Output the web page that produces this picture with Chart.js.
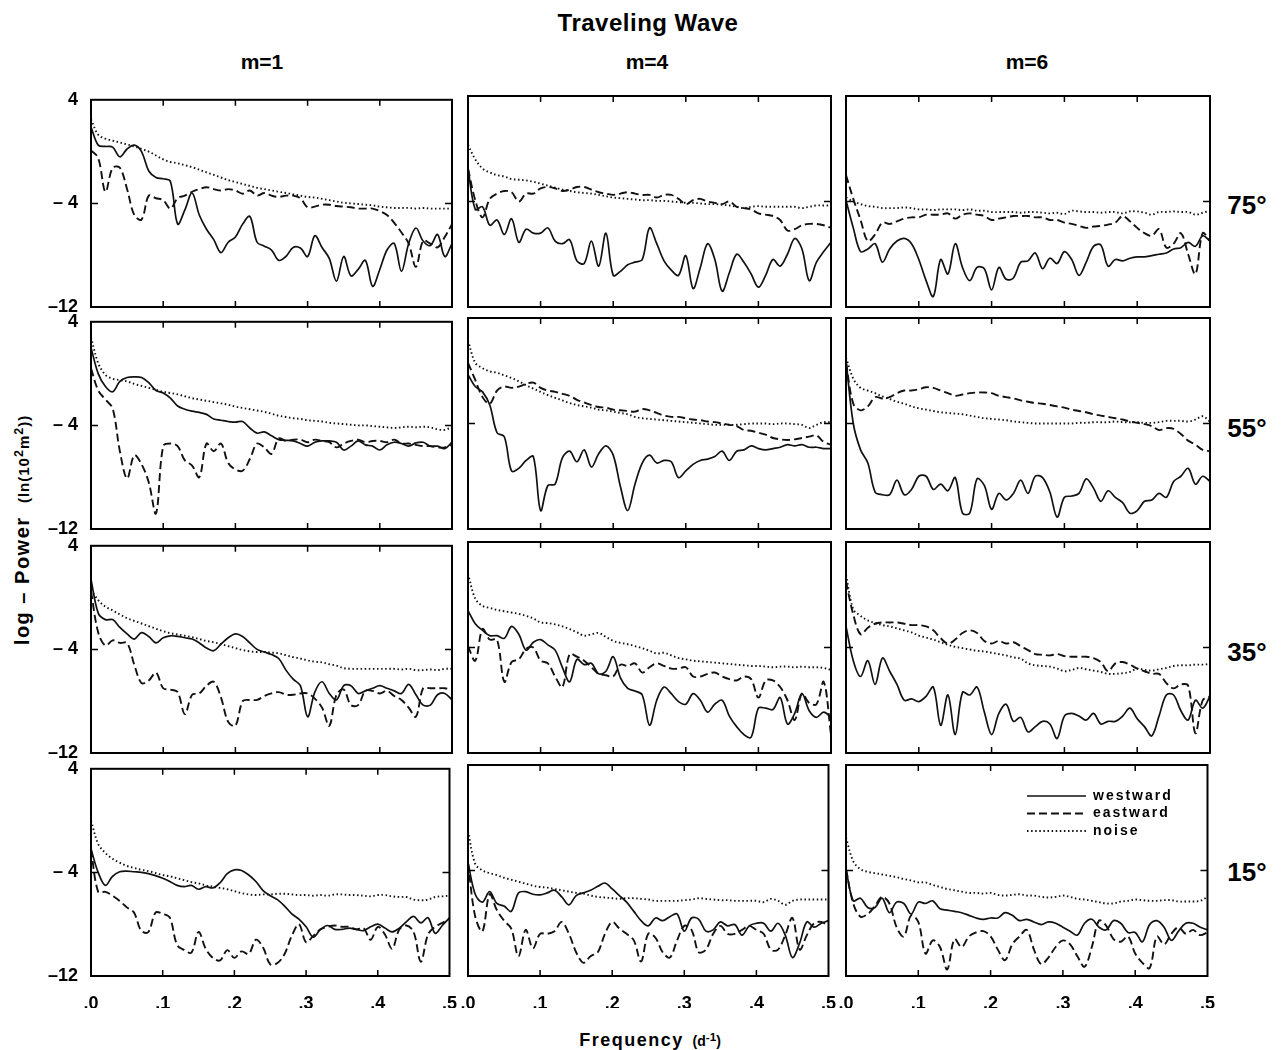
<!DOCTYPE html>
<html>
<head>
<meta charset="utf-8">
<script src="https://cdn.jsdelivr.net/npm/chart.js@4.4.1/dist/chart.umd.min.js"></script>
<style>
  body { margin: 0; background: #fff; }
  #wrap { position: relative; width: 1282px; height: 1050px; font-family: "Liberation Sans", Arial, sans-serif; color: #000; }
  #wrap canvas { position: absolute; }
  .lbl { position: absolute; font-weight: bold; white-space: nowrap; transform: translate(-50%, -50%); }
</style>
</head>
<body>
<div id="wrap">
  <div class="lbl" style="left:648px;top:23px;font-size:24px;letter-spacing:0.5px">Traveling Wave</div>
  <div class="lbl" style="left:262px;top:62px;font-size:21px">m=1</div>
  <div class="lbl" style="left:647px;top:62px;font-size:21px">m=4</div>
  <div class="lbl" style="left:1027px;top:62px;font-size:21px">m=6</div>
  <div class="lbl" style="left:1247px;top:205px;font-size:26px">75°</div>
  <div class="lbl" style="left:1247px;top:428px;font-size:26px">55°</div>
  <div class="lbl" style="left:1247px;top:652px;font-size:26px">35°</div>
  <div class="lbl" style="left:1247px;top:872px;font-size:26px">15°</div>
  <div class="lbl" style="left:22px;top:530px;transform:translate(-50%,-50%) rotate(-90deg)">
    <span style="font-size:20px;letter-spacing:1.5px">log – Power</span>&nbsp;&nbsp;&nbsp;<span style="font-size:15px;letter-spacing:1px">(ln(10<sup>2</sup>m<sup>2</sup>))</span>
  </div>
  <div class="lbl" style="left:650px;top:1040px">
    <span style="font-size:18px;letter-spacing:1.5px">Frequency</span>&nbsp;&nbsp;<span style="font-size:14px">(d<sup>-1</sup>)</span>
  </div>
</div>
<script>
// frequency grid (cycles per day) and axis ticks
const freq = [0,.01,.02,.03,.04,.05,.06,.07,.08,.09,.10,.11,.12,.13,.14,.15,.16,.17,.18,.19,.20,.21,.22,.23,.24,.25,.26,.27,.28,.29,.30,.31,.32,.33,.34,.35,.36,.37,.38,.39,.40,.41,.42,.43,.44,.45,.46,.47,.48,.49,.50];
const xTicks = [0, .1, .2, .3, .4, .5];
const yTicks = [-12, -4, 4];
const latitudes = ["75°", "55°", "35°", "15°"];
const modes = ["m=1", "m=4", "m=6"];
const seriesNames = ["westward", "eastward", "noise"];

// 75°
const w75m1 = [1.9,0.5,0.4,0.35,-0.4,0.2,0.5,0.0,-1.5,-2.0, -2.1,-2.3,-5.6,-4.5,-3.2,-4.9,-6.0,-6.8,-7.8,-7.0, -6.6,-5.6,-5.0,-7.0,-7.3,-7.6,-8.4,-8.1,-7.4,-7.45, -8.1,-6.5,-7.4,-8.25,-10.0,-8.1,-9.6,-9.1,-8.4,-10.4, -9.1,-7.6,-7.1,-9.25,-7.1,-5.9,-6.9,-7.25,-6.4,-8.1, -7.1];
const e75m1 = [0.1,-0.5,-3.1,-1.25,-1.25,-2.9,-4.9,-5.25,-3.4,-3.6, -3.75,-4.4,-3.6,-3.4,-3.1,-2.9,-2.75,-2.9,-3.0,-2.9, -3.0,-3.25,-3.0,-3.4,-3.2,-3.4,-3.5,-3.4,-3.4,-3.6, -4.3,-4.25,-4.1,-4.1,-4.2,-4.25,-4.3,-4.4,-4.4,-4.4, -4.6,-4.9,-5.5,-6.25,-7.1,-8.9,-6.9,-7.1,-7.4,-6.6, -5.6];
const n75m1 = [2.5,1.3,1.0,0.85,0.7,0.55,0.4,0.2,0.0,-0.3, -0.6,-0.8,-0.9,-1.05,-1.2,-1.4,-1.6,-1.8,-2.0,-2.2, -2.35,-2.5,-2.65,-2.8,-2.9,-3.0,-3.1,-3.2,-3.3,-3.4, -3.5,-3.55,-3.65,-3.75,-3.85,-3.95,-4.0,-4.05,-4.1,-4.15, -4.25,-4.3,-4.35,-4.35,-4.35,-4.4,-4.35,-4.4,-4.4,-4.4, -4.4];
const w75m4 = [-1.5,-4.6,-4.4,-5.8,-5.4,-6.5,-5.3,-7.1,-6.1,-6.4, -6.4,-6.0,-7.0,-7.2,-6.9,-8.5,-8.7,-7.0,-8.9,-6.4, -9.6,-9.3,-8.8,-8.6,-8.4,-6.0,-7.2,-8.5,-9.2,-9.6, -8.1,-10.6,-9.0,-7.2,-8.4,-10.8,-9.4,-8.0,-8.6,-9.5, -10.5,-9.6,-8.4,-8.9,-8.0,-6.8,-7.6,-10.0,-8.6,-7.8, -7.1];
const e75m4 = [-1.5,-3.9,-5.2,-3.8,-3.4,-3.2,-3.3,-4.0,-3.4,-3.4, -3.0,-2.9,-3.0,-3.2,-3.1,-2.9,-2.9,-3.1,-3.3,-3.4, -3.5,-3.4,-3.3,-3.4,-3.5,-3.5,-3.7,-3.5,-3.5,-3.8, -4.2,-3.9,-3.8,-4.0,-4.1,-4.2,-4.0,-4.4,-4.5,-4.6, -4.9,-5.0,-5.1,-5.4,-6.2,-6.1,-5.8,-5.7,-5.7,-5.8, -6.0];
const n75m4 = [0.3,-0.8,-1.5,-1.8,-2.0,-2.1,-2.3,-2.35,-2.4,-2.5, -2.65,-2.8,-2.95,-3.1,-3.2,-3.3,-3.35,-3.4,-3.5,-3.6, -3.7,-3.75,-3.8,-3.85,-3.9,-3.9,-3.95,-3.95,-4.0,-4.05, -4.1,-4.1,-4.15,-4.2,-4.2,-4.25,-4.3,-4.4,-4.5,-4.4, -4.35,-4.4,-4.4,-4.4,-4.4,-4.4,-4.5,-4.4,-4.3,-4.3, -4.3];
const w75m6 = [-3.9,-6.0,-7.8,-7.6,-7.2,-8.6,-7.6,-7.0,-6.8,-7.2, -8.4,-10.0,-11.2,-8.4,-9.5,-7.2,-9.0,-10.0,-9.0,-9.1, -10.7,-9.0,-9.9,-9.8,-8.6,-8.5,-7.9,-9.1,-8.3,-8.7, -7.8,-8.4,-9.6,-8.6,-7.4,-7.3,-8.9,-8.4,-8.5,-8.3, -8.2,-8.2,-8.1,-8.0,-7.9,-7.6,-7.5,-7.1,-7.4,-6.6, -7.0];
const e75m6 = [-2.0,-3.8,-5.4,-7.0,-6.5,-5.6,-5.7,-5.5,-5.3,-5.2, -5.2,-5.0,-5.0,-5.0,-4.9,-5.3,-5.0,-4.9,-5.0,-5.1, -5.4,-5.3,-5.2,-5.1,-5.1,-5.1,-5.2,-5.2,-5.4,-5.4, -5.6,-5.7,-5.85,-6.0,-5.9,-5.85,-5.75,-5.6,-5.1,-5.5, -6.0,-6.4,-6.6,-6.1,-7.5,-7.2,-6.4,-8.0,-9.5,-6.4, -7.0];
const n75m6 = [-3.7,-4.0,-4.2,-4.35,-4.4,-4.5,-4.5,-4.5,-4.45,-4.5, -4.6,-4.6,-4.65,-4.6,-4.6,-4.6,-4.65,-4.6,-4.7,-4.7, -4.8,-4.8,-4.8,-4.8,-4.85,-4.8,-4.8,-4.85,-4.9,-4.85, -4.95,-4.7,-4.75,-4.8,-4.8,-4.85,-4.8,-4.8,-4.9,-4.75, -4.75,-4.85,-5.0,-4.8,-4.8,-4.75,-4.8,-4.8,-5.0,-4.85, -4.7];

// 55°
const w55m1 = [2.0,0.0,-1.0,-1.4,-0.6,-0.3,-0.25,-0.3,-0.7,-1.3, -1.5,-1.9,-2.5,-2.75,-2.9,-3.0,-3.15,-3.5,-3.6,-3.7, -3.75,-3.7,-4.2,-4.6,-4.5,-4.8,-5.1,-5.15,-5.2,-5.4, -5.6,-5.3,-5.2,-5.2,-5.3,-5.9,-5.6,-5.2,-5.5,-5.6, -5.9,-5.5,-5.3,-5.4,-5.6,-5.35,-5.3,-5.6,-5.6,-5.8, -5.3];
const e55m1 = [0.4,-1.3,-2.0,-2.7,-6.0,-8.1,-6.3,-7.0,-8.4,-10.8, -5.6,-5.4,-5.6,-6.7,-7.1,-8.0,-5.4,-6.0,-5.4,-6.9, -7.4,-7.5,-6.6,-5.4,-5.7,-6.2,-5.0,-5.2,-5.1,-5.1, -5.3,-5.1,-5.2,-5.3,-5.7,-5.4,-5.2,-5.1,-5.3,-5.2, -5.2,-5.3,-5.1,-5.4,-5.4,-5.5,-5.6,-5.6,-5.7,-5.7, -5.5];
const n55m1 = [2.8,0.8,-0.1,-0.4,-0.5,-0.6,-0.8,-0.95,-1.1,-1.25, -1.4,-1.5,-1.6,-1.75,-1.9,-2.0,-2.1,-2.2,-2.3,-2.4, -2.55,-2.65,-2.75,-2.85,-2.95,-3.1,-3.25,-3.35,-3.45,-3.5, -3.6,-3.65,-3.7,-3.8,-3.85,-3.9,-3.95,-4.0,-4.0,-4.05, -4.1,-4.15,-4.2,-4.15,-4.1,-4.15,-4.1,-4.15,-4.3,-4.35, -4.1];
const w55m4 = [-0.3,-1.2,-1.6,-2.6,-4.7,-5.0,-7.6,-7.4,-6.8,-6.5, -10.6,-8.7,-8.6,-6.6,-6.1,-6.9,-6.0,-7.3,-6.3,-5.7, -6.4,-8.8,-10.6,-8.6,-7.0,-6.4,-7.0,-6.8,-6.9,-8.1, -7.6,-7.1,-6.8,-6.7,-6.5,-6.1,-6.8,-6.1,-6.0,-5.7, -5.9,-6.0,-5.9,-5.8,-5.6,-5.7,-5.6,-5.8,-5.8,-5.9, -5.9];
const e55m4 = [0.6,-0.7,-2.0,-2.5,-1.5,-1.2,-1.3,-1.2,-1.0,-0.9, -1.3,-1.5,-1.6,-1.75,-1.9,-2.2,-2.4,-2.6,-2.75,-2.8, -2.95,-3.0,-3.05,-3.1,-2.9,-3.0,-3.2,-3.4,-3.5,-3.5, -3.6,-3.7,-3.75,-3.85,-3.9,-4.0,-4.1,-4.2,-4.5,-4.55, -4.7,-4.85,-5.1,-5.2,-5.25,-5.2,-5.1,-5.0,-4.9,-5.4, -5.6];
const n55m4 = [2.3,0.6,0.2,-0.05,-0.15,-0.35,-0.55,-0.8,-1.1,-1.35, -1.6,-1.85,-2.05,-2.25,-2.45,-2.6,-2.7,-2.8,-2.95,-3.0, -3.1,-3.2,-3.3,-3.5,-3.6,-3.65,-3.7,-3.75,-3.8,-3.85, -3.9,-3.95,-4.0,-4.05,-4.1,-4.1,-4.1,-4.1,-4.05,-4.0, -4.0,-4.0,-4.05,-4.0,-4.0,-4.05,-4.1,-4.35,-4.1,-3.9, -3.9];
const w55m6 = [0.8,-4.0,-6.0,-7.0,-9.2,-9.4,-9.4,-8.3,-9.4,-9.0, -8.0,-8.0,-9.0,-8.6,-9.1,-8.1,-10.8,-10.8,-8.2,-8.7, -10.5,-9.3,-9.8,-9.3,-8.3,-9.3,-8.0,-8.1,-9.2,-11.1, -9.6,-9.5,-9.3,-8.2,-8.9,-9.9,-9.1,-9.6,-10.0,-10.8, -10.6,-9.9,-9.8,-9.3,-9.6,-8.4,-8.0,-7.4,-8.6,-8.0, -8.4];
const e55m6 = [0.6,-2.5,-3.0,-2.7,-2.0,-2.1,-2.0,-1.7,-1.5,-1.5, -1.4,-1.25,-1.3,-1.5,-1.7,-1.9,-1.8,-1.7,-1.65,-1.65, -1.7,-1.9,-2.0,-2.1,-2.25,-2.35,-2.45,-2.5,-2.6,-2.7, -2.8,-2.95,-3.05,-3.15,-3.3,-3.4,-3.5,-3.6,-3.7,-3.85, -3.95,-4.05,-4.2,-4.5,-4.35,-4.4,-4.8,-5.3,-5.6,-6.0, -6.1];
const n55m6 = [1.0,-0.6,-1.3,-1.5,-1.7,-1.95,-2.15,-2.35,-2.5,-2.7, -2.85,-2.95,-3.05,-3.15,-3.2,-3.25,-3.3,-3.4,-3.5,-3.6, -3.65,-3.7,-3.75,-3.85,-3.9,-3.95,-4.0,-4.0,-4.0,-4.0, -4.0,-4.0,-3.95,-3.95,-3.9,-3.9,-3.9,-3.85,-3.9,-3.9, -3.9,-3.95,-3.95,-3.9,-3.8,-3.8,-3.8,-3.85,-3.7,-3.45, -3.85];

// 35°
const w35m1 = [1.4,-1.2,-1.7,-1.7,-2.3,-2.8,-3.2,-2.7,-3.0,-3.5, -3.1,-2.95,-3.0,-3.1,-3.2,-3.5,-3.9,-4.1,-3.6,-3.1, -2.8,-3.0,-3.5,-4.0,-4.2,-4.4,-4.7,-5.6,-6.3,-6.8, -9.2,-7.3,-6.5,-7.4,-7.9,-6.8,-6.8,-7.4,-7.2,-7.0, -6.8,-7.0,-7.2,-7.4,-6.7,-7.5,-8.3,-8.3,-7.5,-7.4, -7.9];
const e35m1 = [0.5,-2.7,-3.7,-3.3,-3.5,-3.5,-5.2,-6.6,-6.4,-5.8, -7.0,-7.1,-7.3,-9.0,-7.5,-7.4,-6.8,-6.5,-7.7,-9.6, -9.9,-8.0,-7.9,-7.9,-7.6,-7.4,-7.3,-7.5,-7.5,-7.4, -7.4,-7.8,-8.5,-9.9,-7.5,-7.1,-8.3,-8.3,-7.2,-7.2, -7.4,-7.2,-7.6,-7.9,-8.5,-9.2,-7.0,-7.0,-7.0,-7.0, -7.1];
const n35m1 = [0.6,-0.2,-0.7,-1.0,-1.3,-1.6,-1.8,-2.0,-2.2,-2.4, -2.6,-2.75,-2.85,-2.95,-3.05,-3.2,-3.35,-3.45,-3.6,-3.75, -3.9,-4.05,-4.15,-4.2,-4.2,-4.25,-4.3,-4.45,-4.6,-4.7, -4.85,-4.95,-5.0,-5.15,-5.25,-5.45,-5.5,-5.5,-5.5,-5.5, -5.5,-5.5,-5.5,-5.55,-5.5,-5.6,-5.6,-5.55,-5.6,-5.5, -5.5];
const w35m4 = [-1.2,-2.2,-2.7,-3.1,-3.1,-3.3,-2.4,-3.0,-4.2,-3.6, -3.4,-3.8,-4.2,-5.5,-6.6,-4.9,-5.3,-5.2,-6.0,-5.8, -4.7,-6.3,-7.1,-7.3,-7.6,-9.9,-8.0,-7.0,-7.5,-8.1, -8.3,-7.5,-8.0,-8.9,-8.3,-8.0,-9.2,-10.0,-10.6,-10.8, -8.6,-8.6,-8.7,-7.8,-9.8,-9.0,-7.5,-8.8,-9.3,-8.9, -9.3];
const e35m4 = [-3.9,-5.0,-2.6,-3.4,-3.4,-6.6,-5.1,-4.9,-4.1,-4.0, -5.0,-5.2,-6.2,-7.0,-4.5,-4.7,-5.0,-5.5,-6.0,-6.1, -6.2,-5.3,-5.4,-5.2,-5.9,-5.5,-5.2,-5.4,-5.6,-5.6, -5.5,-6.2,-6.2,-6.0,-5.9,-6.2,-6.4,-6.5,-6.2,-6.4, -7.8,-6.5,-6.5,-7.0,-8.0,-9.5,-7.5,-8.2,-8.3,-6.6, -10.6];
const n35m4 = [1.6,-0.3,-0.85,-1.0,-1.15,-1.25,-1.35,-1.45,-1.6,-1.8, -2.1,-2.15,-2.25,-2.4,-2.6,-2.85,-3.1,-3.0,-2.9,-3.2, -3.5,-3.65,-3.75,-3.9,-4.05,-4.25,-4.45,-4.4,-4.6,-4.8, -4.9,-5.0,-5.05,-5.1,-5.15,-5.2,-5.25,-5.3,-5.35,-5.4, -5.4,-5.45,-5.5,-5.45,-5.45,-5.5,-5.45,-5.5,-5.5,-5.55, -5.7];
const w35m6 = [-2.4,-5.0,-6.2,-5.0,-6.8,-4.8,-5.8,-6.8,-8.0,-7.9, -8.1,-7.7,-7.0,-9.9,-7.6,-10.6,-7.4,-7.6,-7.0,-8.9, -10.6,-9.0,-8.3,-9.6,-9.3,-10.4,-10.0,-9.6,-9.8,-10.9, -9.2,-9.0,-9.2,-9.5,-9.0,-9.8,-9.6,-9.6,-9.2,-8.6, -9.4,-10.0,-10.7,-9.2,-7.6,-7.6,-8.8,-9.5,-8.0,-8.6, -7.7];
const e35m6 = [1.0,-1.5,-3.0,-2.5,-2.2,-2.1,-2.1,-2.1,-2.2,-2.3, -2.3,-2.4,-2.7,-3.3,-3.7,-3.4,-2.9,-2.7,-2.9,-3.5, -3.7,-3.5,-3.7,-3.6,-3.9,-4.2,-4.5,-4.55,-4.6,-4.5, -4.65,-4.7,-4.7,-4.7,-4.8,-5.1,-5.8,-5.2,-5.1,-5.3, -5.6,-5.8,-6.0,-6.0,-6.7,-7.1,-6.8,-6.9,-10.5,-8.0, -7.7];
const n35m6 = [1.5,-1.1,-1.6,-1.95,-2.15,-2.3,-2.4,-2.55,-2.7,-2.85, -3.1,-3.25,-3.4,-3.6,-3.8,-3.95,-4.05,-4.15,-4.25,-4.3, -4.4,-4.5,-4.6,-4.75,-4.85,-5.2,-5.35,-5.4,-5.45,-5.6, -5.8,-5.7,-5.55,-5.65,-5.75,-5.85,-6.0,-6.0,-5.95,-5.85, -5.6,-5.7,-5.75,-5.65,-5.55,-5.4,-5.35,-5.35,-5.3,-5.3, -5.25];

// 15°
const w15m1 = [-2.2,-4.0,-5.0,-4.3,-3.95,-3.9,-3.95,-4.0,-4.1,-4.25, -4.45,-4.7,-5.0,-5.1,-5.0,-5.3,-5.1,-5.2,-4.8,-4.1, -3.8,-3.85,-4.2,-4.7,-5.4,-5.8,-6.1,-6.6,-7.2,-7.6, -8.2,-9.0,-8.4,-8.1,-8.4,-8.4,-8.3,-8.4,-8.5,-8.2, -8.0,-8.3,-8.6,-8.3,-7.8,-7.4,-7.9,-7.5,-8.7,-8.1, -7.5];
const e15m1 = [-2.2,-5.5,-5.5,-5.8,-6.2,-6.7,-7.1,-8.5,-8.6,-7.1, -7.2,-7.5,-9.6,-10.0,-10.2,-8.6,-9.9,-10.6,-10.8,-10.0, -10.6,-10.1,-10.3,-9.2,-9.8,-11.1,-11.0,-10.3,-8.9,-8.0, -9.4,-8.9,-8.4,-8.2,-8.1,-8.2,-8.2,-8.4,-8.3,-9.2, -8.2,-8.8,-9.9,-8.4,-8.1,-8.6,-10.9,-8.8,-8.2,-7.9, -7.6];
const n15m1 = [0.0,-1.8,-2.5,-2.95,-3.25,-3.5,-3.65,-3.8,-3.9,-4.05, -4.2,-4.3,-4.45,-4.6,-4.75,-4.85,-5.0,-5.1,-5.2,-5.3, -5.45,-5.6,-5.7,-5.75,-5.7,-5.7,-5.65,-5.65,-5.7,-5.75, -5.75,-5.8,-5.75,-5.8,-5.7,-5.7,-5.75,-5.75,-5.8,-5.85, -5.75,-5.75,-5.85,-5.9,-5.9,-6.1,-6.15,-6.1,-5.9,-5.85, -5.8];
const w15m4 = [-3.4,-5.8,-6.4,-5.6,-6.5,-6.7,-7.1,-5.7,-5.6,-5.8, -5.85,-5.7,-5.5,-6.0,-6.6,-5.9,-5.7,-5.5,-5.2,-4.95, -5.4,-5.9,-6.4,-7.1,-7.8,-8.2,-7.6,-7.8,-7.5,-7.3, -8.6,-7.6,-7.7,-8.6,-8.5,-7.9,-8.2,-8.1,-8.9,-8.2, -8.0,-8.0,-8.6,-8.0,-8.9,-10.6,-9.5,-7.9,-8.3,-8.0, -7.8];
const e15m4 = [-3.4,-7.5,-8.6,-5.8,-7.0,-7.8,-8.4,-10.5,-8.5,-9.9, -8.8,-8.8,-8.6,-7.9,-8.8,-10.2,-11.0,-10.5,-10.2,-8.8, -7.9,-8.4,-8.8,-9.3,-10.9,-8.8,-9.1,-10.2,-10.6,-9.3, -8.2,-8.5,-10.2,-10.0,-8.8,-8.2,-8.8,-8.8,-8.5,-8.2, -8.5,-8.8,-10.0,-10.0,-8.9,-7.6,-10.0,-8.9,-8.0,-7.9, -8.2];
const n15m4 = [-1.0,-3.5,-4.0,-4.2,-4.35,-4.55,-4.7,-4.85,-5.0,-5.15, -5.25,-5.3,-5.4,-5.5,-5.6,-5.7,-5.75,-5.9,-6.0,-6.05, -6.1,-6.15,-6.1,-6.1,-6.15,-6.2,-6.3,-6.3,-6.3,-6.3, -6.25,-6.2,-6.1,-6.15,-6.2,-6.25,-6.25,-6.3,-6.3,-6.3, -6.3,-6.4,-6.15,-6.3,-6.6,-6.3,-6.2,-6.2,-6.2,-6.2, -6.2];
const w15m6 = [-3.9,-6.3,-6.1,-6.8,-6.8,-6.1,-7.2,-6.4,-6.5,-7.3, -6.4,-6.5,-6.3,-6.9,-7.0,-7.1,-7.2,-7.4,-7.6,-7.7, -7.6,-7.6,-7.2,-7.4,-7.8,-7.7,-7.9,-8.1,-7.9,-8.0, -8.3,-8.6,-8.9,-8.0,-7.7,-8.3,-8.5,-7.8,-8.0,-8.7, -8.7,-9.4,-8.1,-7.8,-8.3,-9.3,-8.6,-8.0,-8.0,-8.3, -8.5];
const e15m6 = [-3.9,-6.5,-7.5,-7.3,-6.7,-6.0,-6.5,-8.3,-9.0,-7.4, -7.9,-10.3,-9.3,-9.8,-11.5,-9.2,-9.8,-9.0,-8.7,-8.6, -9.0,-10.0,-10.8,-9.6,-9.0,-8.5,-10.0,-11.1,-10.6,-9.8, -9.3,-9.6,-10.5,-11.3,-9.8,-7.8,-8.2,-9.2,-9.4,-9.0, -10.3,-11.0,-11.4,-9.0,-9.6,-8.8,-8.3,-8.8,-8.5,-8.9, -8.7];
const n15m6 = [-1.5,-3.3,-3.9,-4.1,-4.2,-4.3,-4.4,-4.5,-4.65,-4.75, -4.9,-4.9,-5.1,-5.25,-5.4,-5.5,-5.6,-5.7,-5.7,-5.75, -5.7,-5.85,-5.9,-5.85,-5.8,-5.9,-5.9,-6.0,-6.05,-6.0, -5.9,-6.0,-6.15,-6.2,-6.3,-6.4,-6.5,-6.5,-6.35,-6.3, -6.2,-6.25,-6.3,-6.3,-6.25,-6.25,-6.35,-6.35,-6.35,-6.3, -6.0];

const westward = [[w75m1, w75m4, w75m6], [w55m1, w55m4, w55m6], [w35m1, w35m4, w35m6], [w15m1, w15m4, w15m6]];
const eastward = [[e75m1, e75m4, e75m6], [e55m1, e55m4, e55m6], [e35m1, e35m4, e35m6], [e15m1, e15m4, e15m6]];
const noise = [[n75m1, n75m4, n75m6], [n55m1, n55m4, n55m6], [n35m1, n35m4, n35m6], [n15m1, n15m4, n15m6]];

// layout of the 4x3 grid (plot area pixels)
const plotLeft = [91, 468, 846];
const plotWidth = [361, 363, 364];
const plotTop = [96, 318, 542, 765];
const plotHeight = 211;
const AXW = 50, AXH = 32, PADT = 12, PADR = 14;

Chart.defaults.font.family = '"Liberation Sans", Arial, sans-serif';
Chart.defaults.color = "#000";
const tickFont = { size: 18, weight: "bold" };

const lineStyles = [
  { borderWidth: 1.7, borderDash: [] },
  { borderWidth: 1.9, borderDash: [8, 4] },
  { borderWidth: 1.9, borderDash: [1.5, 2.6] }
];

const framePlugin = {
  id: "frame",
  afterDraw(chart) {
    const { ctx, chartArea: a, scales: { x, y } } = chart;
    ctx.save();
    ctx.strokeStyle = "#000";
    ctx.lineWidth = 2;
    ctx.strokeRect(a.left, a.top, a.right - a.left, a.bottom - a.top);
    ctx.lineWidth = 1.5;
    ctx.beginPath();
    xTicks.slice(1, -1).forEach(v => {
      const px = x.getPixelForValue(v);
      ctx.moveTo(px, a.top); ctx.lineTo(px, a.top + 6);
      ctx.moveTo(px, a.bottom); ctx.lineTo(px, a.bottom - 6);
    });
    yTicks.slice(1, -1).forEach(v => {
      const py = y.getPixelForValue(v);
      ctx.moveTo(a.left, py); ctx.lineTo(a.left + 7, py);
      ctx.moveTo(a.right, py); ctx.lineTo(a.right - 7, py);
    });
    ctx.stroke();
    ctx.restore();
  }
};

const legendPlugin = {
  id: "inLegend",
  afterDraw(chart) {
    const { ctx, chartArea: a } = chart;
    ctx.save();
    ctx.font = 'bold 14px "Liberation Sans", Arial, sans-serif';
    ctx.letterSpacing = "2px";
    ctx.textBaseline = "middle";
    ctx.fillStyle = "#000";
    chart.data.datasets.forEach((ds, i) => {
      const yy = a.top + 31 + i * 17.5;
      ctx.strokeStyle = ds.borderColor;
      ctx.lineWidth = ds.borderWidth;
      ctx.setLineDash(ds.borderDash);
      ctx.beginPath();
      ctx.moveTo(a.left + 181, yy);
      ctx.lineTo(a.left + 240, yy);
      ctx.stroke();
      ctx.fillText(ds.label, a.left + 247, yy);
    });
    ctx.restore();
  }
};

const wrap = document.getElementById("wrap");

latitudes.forEach((lat, r) => {
  modes.forEach((m, c) => {
    const cv = document.createElement("canvas");
    const w = AXW + plotWidth[c] + PADR;
    const h = PADT + plotHeight + AXH;
    cv.width = w; cv.height = h;
    cv.style.left = (plotLeft[c] - AXW) + "px";
    cv.style.top = (plotTop[r] - PADT) + "px";
    wrap.appendChild(cv);

    const series = [westward[r][c], eastward[r][c], noise[r][c]];
    const datasets = series.map((vals, i) => ({
      label: seriesNames[i],
      data: vals.map((v, k) => ({ x: freq[k], y: v })),
      borderColor: "#111",
      borderWidth: lineStyles[i].borderWidth,
      borderDash: lineStyles[i].borderDash,
      pointRadius: 0,
      fill: false,
      tension: 0.35
    }));

    const plugins = [framePlugin];
    if (r === 3 && c === 2) plugins.push(legendPlugin);

    new Chart(cv, {
      type: "line",
      data: { datasets },
      plugins,
      options: {
        responsive: false,
        animation: false,
        events: [],
        layout: { padding: { left: 0, right: PADR, top: PADT, bottom: 0 } },
        plugins: { legend: { display: false }, tooltip: { enabled: false } },
        scales: {
          x: {
            type: "linear", min: 0, max: 0.5,
            afterBuildTicks: s => { s.ticks = xTicks.map(v => ({ value: v })); },
            afterFit: s => { s.height = AXH; },
            grid: { display: false },
            border: { display: false },
            ticks: {
              display: r === 3, autoSkip: false, maxRotation: 0, padding: 9,
              font: tickFont,
              callback: v => "." + Math.round(v * 10)
            }
          },
          y: {
            type: "linear", min: -12, max: 4,
            afterBuildTicks: s => { s.ticks = yTicks.map(v => ({ value: v })); },
            afterFit: s => { s.width = AXW; },
            grid: { display: false },
            border: { display: false },
            ticks: {
              display: c === 0, padding: 5,
              font: tickFont,
              callback: v => (v === 4 ? "4" : v === -4 ? "– 4" : "–12")
            }
          }
        }
      }
    });
  });
});
</script>
</body>
</html>
